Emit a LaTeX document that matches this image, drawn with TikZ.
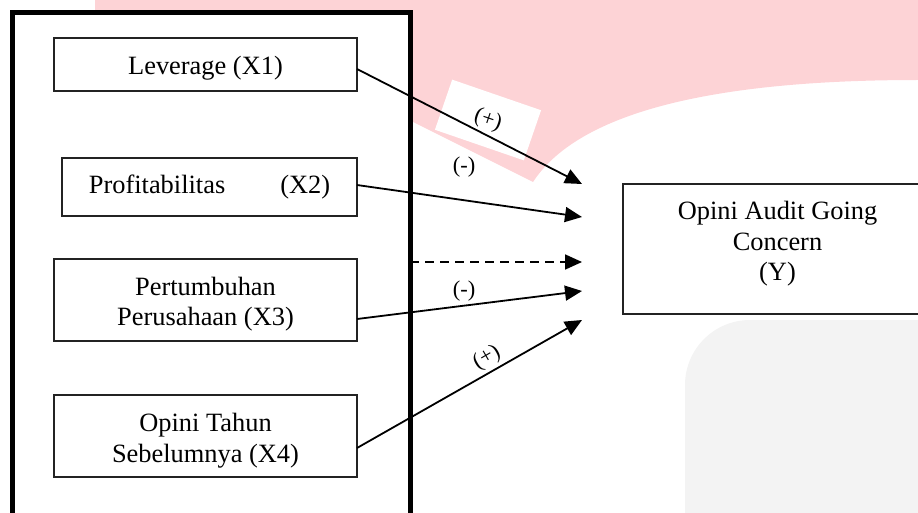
\documentclass[tikz,border=0pt]{standalone}
\usepackage{fontspec}
\setmainfont{Liberation Serif}
\usetikzlibrary{arrows.meta,calc}
\definecolor{wmpink}{RGB}{253,211,214}
\definecolor{wmgray}{RGB}{243,243,243}
\definecolor{boxline}{RGB}{35,35,35}
\begin{document}
\begin{tikzpicture}[x=1pt,y=-1pt,
  varbox/.style={draw=boxline, line width=1.3pt, fill=white, inner sep=0pt, outer sep=0pt},
  vartext/.style={align=center, inner sep=0pt, font=\fontsize{26.4pt}{30.5pt}\selectfont},
  frame/.style={draw=black, line width=5pt, fill=white, inner sep=0pt, outer sep=0pt},
  sign/.style={font=\fontsize{22.5pt}{24pt}\selectfont, inner sep=1pt},
  link/.style={line width=1.8pt, -{Triangle[length=17pt,width=15pt]}},
]
\useasboundingbox (0,0) rectangle (918,513);
\clip (0,0) rectangle (918,513);
% watermark background
\fill[wmpink] (95,0) -- (918,0) -- (918,80)
  .. controls (720,80) and (580,110) .. (533,182) -- (409,120) -- (95,120) -- cycle;
\fill[wmgray, rounded corners=65pt] (685,320) rectangle (1000,600);
% frame around the independent variables
\node[frame, anchor=north west, minimum width=397.5pt, minimum height=560pt] (outer) at (12.5,12.5) {};
% variable boxes
\node[varbox, minimum width=303pt, minimum height=53pt] (x1) at (205.5,64.5) {};
\node[varbox, minimum width=295pt, minimum height=58pt] (x2) at (209.5,187) {};
\node[varbox, minimum width=303pt, minimum height=82pt] (x3) at (205.5,300) {};
\node[varbox, minimum width=303pt, minimum height=82pt] (x4) at (205.5,436) {};
\node[varbox, minimum width=309pt, minimum height=130pt] (y) at (777.5,249) {};
% box texts
\node[vartext] (x1t) at ([yshift=-4pt]x1.center) {Leverage (X1)};
\node[vartext] (x2t) at (x2.center) {Profitabilitas\hspace{55pt}(X2)};
\node[vartext] (x3t) at ([yshift=-4pt]x3.center) {Pertumbuhan\\Perusahaan (X3)};
\node[vartext] (x4t) at ([yshift=-4.5pt]x4.center) {Opini Tahun\\Sebelumnya (X4)};
\node[vartext] (yt) at ([yshift=5pt]y.center) {Opini Audit Going\\Concern\\(Y)};
% arrow tips
\coordinate (t1) at (582,184);
\coordinate (t2) at (582,217);
\coordinate (t3) at (582,262);
\coordinate (t4) at (582,291);
\coordinate (t5) at (582,320);
% sign labels
\node[sign, fill=white, rotate=-19, minimum width=94pt, minimum height=53pt] (s1) at (488,120) {(+)};
\node[sign] (s2) at (464,167) {(-)};
\node[sign] (s3) at (464,291) {(-)};
\node[sign, rotate=30] (s4) at (487,358) {(+)};
% connectors
\draw[link] ([yshift=-4.5pt]x1.east) -- (t1);
\draw[link] ([yshift=2pt]x2.east) -- (t2);
\draw[link, dash pattern=on 9pt off 6pt] (outer.east |- t3) -- (t3);
\draw[link] ([yshift=-19pt]x3.east) -- (t4);
\draw[link] ([yshift=-12pt]x4.east) -- (t5);
\end{tikzpicture}
\end{document}
